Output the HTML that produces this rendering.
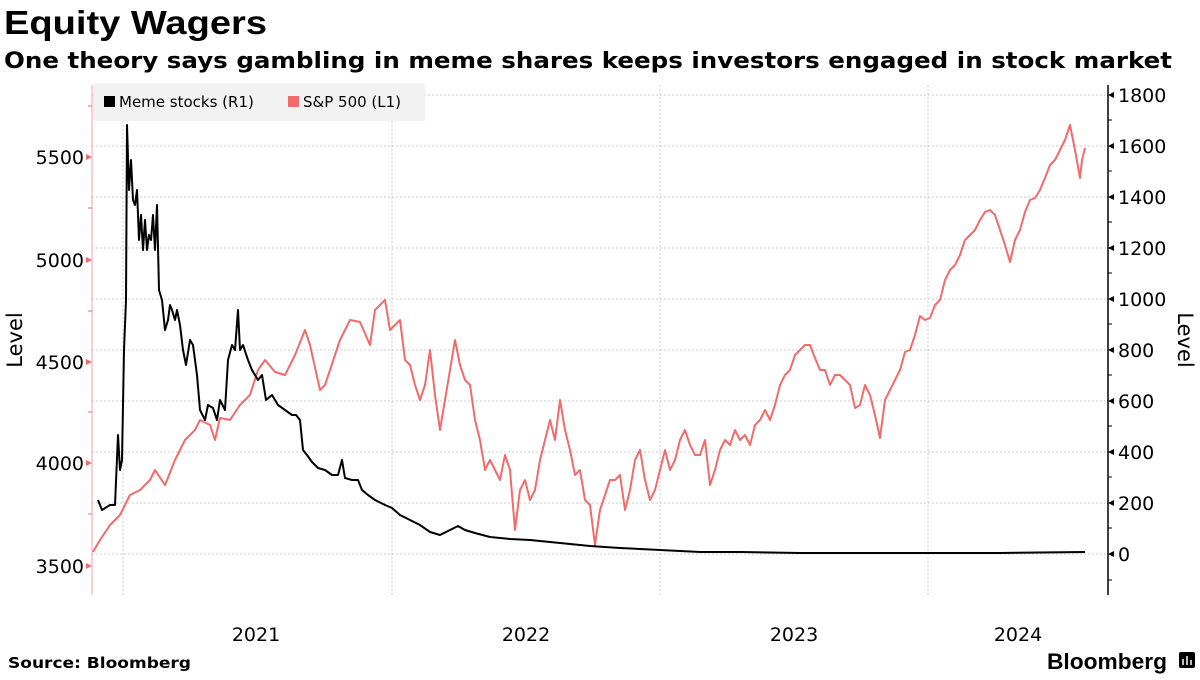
<!DOCTYPE html><html><head><meta charset="utf-8"><style>
body{margin:0;width:1200px;height:675px;background:#fff;font-family:"Liberation Sans","DejaVu Sans",sans-serif;overflow:hidden}
</style></head><body>
<svg width="1200" height="675" xmlns="http://www.w3.org/2000/svg" font-family="'DejaVu Sans','Liberation Sans',sans-serif">
<text x="4" y="34" font-size="33" font-weight="bold" font-family="'Liberation Sans',sans-serif" textLength="263" lengthAdjust="spacingAndGlyphs">Equity Wagers</text>
<text x="4" y="68" font-size="22.5" font-weight="bold" font-family="'DejaVu Sans',sans-serif" textLength="1168" lengthAdjust="spacingAndGlyphs">One theory says gambling in meme shares keeps investors engaged in stock market</text>
<g stroke="#ccc" stroke-dasharray="2,2" stroke-width="1">
<line x1="92" x2="1108" y1="95" y2="95"/><line x1="92" x2="1108" y1="146" y2="146"/><line x1="92" x2="1108" y1="197" y2="197"/><line x1="92" x2="1108" y1="248" y2="248"/><line x1="92" x2="1108" y1="299" y2="299"/><line x1="92" x2="1108" y1="350" y2="350"/><line x1="92" x2="1108" y1="401" y2="401"/><line x1="92" x2="1108" y1="452" y2="452"/><line x1="92" x2="1108" y1="503" y2="503"/><line x1="92" x2="1108" y1="554" y2="554"/>
<line x1="123" x2="123" y1="85" y2="595"/><line x1="392" x2="392" y1="85" y2="595"/><line x1="660" x2="660" y1="85" y2="595"/><line x1="928" x2="928" y1="85" y2="595"/>
</g>
<rect x="93" y="83" width="332" height="38" fill="#f2f2f2"/>
<rect x="104" y="96" width="11" height="11" fill="#000"/>
<text x="119" y="107" font-size="15">Meme stocks (R1)</text>
<rect x="288" y="96" width="11" height="11" fill="#f26b6b"/>
<text x="303" y="107" font-size="15">S&amp;P 500 (L1)</text>
<line x1="92" x2="92" y1="85" y2="595" stroke="#f4a0a0"/>
<g fill="#f26b6b"><path d="M86,154 l6,3 l-6,3z"/><path d="M86,257 l6,3 l-6,3z"/><path d="M86,359 l6,3 l-6,3z"/><path d="M86,460 l6,3 l-6,3z"/><path d="M86,563 l6,3 l-6,3z"/></g>
<g stroke="#f26b6b"><line x1="88" x2="92" y1="106" y2="106"/><line x1="88" x2="92" y1="208" y2="208"/><line x1="88" x2="92" y1="311" y2="311"/><line x1="88" x2="92" y1="412" y2="412"/><line x1="88" x2="92" y1="514" y2="514"/></g>
<g font-size="19" text-anchor="end"><text x="84" y="164">5500</text><text x="84" y="267">5000</text><text x="84" y="369">4500</text><text x="84" y="470">4000</text><text x="84" y="573">3500</text></g>
<text transform="translate(22,340) rotate(-90)" font-size="21" text-anchor="middle">Level</text>
<line x1="1108" x2="1108" y1="85" y2="595" stroke="#000" stroke-width="1.5"/>
<g fill="#000"><path d="M1114,92 l-6,3 l6,3z"/><path d="M1114,143 l-6,3 l6,3z"/><path d="M1114,194 l-6,3 l6,3z"/><path d="M1114,245 l-6,3 l6,3z"/><path d="M1114,296 l-6,3 l6,3z"/><path d="M1114,347 l-6,3 l6,3z"/><path d="M1114,398 l-6,3 l6,3z"/><path d="M1114,449 l-6,3 l6,3z"/><path d="M1114,500 l-6,3 l6,3z"/><path d="M1114,551 l-6,3 l6,3z"/></g>
<g stroke="#000"><line x1="1108" x2="1112" y1="120" y2="120"/><line x1="1108" x2="1112" y1="171" y2="171"/><line x1="1108" x2="1112" y1="222" y2="222"/><line x1="1108" x2="1112" y1="273" y2="273"/><line x1="1108" x2="1112" y1="324" y2="324"/><line x1="1108" x2="1112" y1="375" y2="375"/><line x1="1108" x2="1112" y1="426" y2="426"/><line x1="1108" x2="1112" y1="477" y2="477"/><line x1="1108" x2="1112" y1="528" y2="528"/><line x1="1108" x2="1112" y1="580" y2="580"/></g>
<g font-size="19"><text x="1118" y="102">1800</text><text x="1118" y="153">1600</text><text x="1118" y="204">1400</text><text x="1118" y="255">1200</text><text x="1118" y="306">1000</text><text x="1118" y="357">800</text><text x="1118" y="408">600</text><text x="1118" y="459">400</text><text x="1118" y="510">200</text><text x="1118" y="561">0</text></g>
<text transform="translate(1178,340) rotate(90)" font-size="21" text-anchor="middle">Level</text>
<g font-size="19" text-anchor="middle"><text x="256" y="641">2021</text><text x="526" y="641">2022</text><text x="794" y="641">2023</text><text x="1018" y="641">2024</text></g>
<polyline fill="none" stroke="#f26b6b" stroke-width="2" stroke-linejoin="round" points="93,552 100,540 110,525 120,515 130,495 140,490 150,480 155,470 165,485 175,460 185,440 195,430 200,420 210,425 215,440 220,418 230,420 240,405 250,395 258,370 265,360 275,372 285,375 295,355 305,330 310,345 320,390 325,385 330,370 340,340 350,320 360,322 370,345 375,310 385,300 390,330 400,320 405,360 410,365 415,385 420,400 425,385 430,350 435,395 440,430 445,400 450,370 455,340 460,365 465,380 470,385 475,420 480,440 485,470 490,460 495,470 500,480 505,455 510,470 515,530 520,490 525,480 530,500 535,490 540,460 545,440 550,420 555,440 560,400 565,430 570,450 575,475 580,470 585,500 590,505 595,545 600,510 605,495 610,480 615,480 620,475 625,510 630,490 635,460 640,450 645,480 650,500 655,490 660,470 665,450 670,470 675,460 680,440 685,430 690,445 695,455 700,455 705,440 710,485 715,470 720,450 725,440 730,445 735,430 740,440 745,435 750,445 755,425 760,420 765,410 770,420 775,405 780,385 785,375 790,370 795,355 800,350 805,345 810,345 815,358 820,370 825,370 830,385 835,375 840,375 845,380 850,385 855,408 860,405 865,385 870,395 875,415 880,438 885,400 890,390 895,380 900,370 905,352 910,350 915,335 920,316 925,320 930,318 935,305 940,300 945,280 950,270 955,265 960,255 965,240 970,235 975,230 980,220 985,212 990,210 995,215 1000,230 1005,245 1010,262 1015,240 1020,230 1025,212 1030,200 1035,198 1040,190 1045,178 1050,165 1055,160 1060,150 1065,140 1070,125 1075,150 1080,178 1082,160 1085,148"/>
<polyline fill="none" stroke="#000" stroke-width="2" stroke-linejoin="round" points="98,500 102,510 110,505 115,505 118,435 120,470 122,460 124,350 126,300 127,125 129,190 131,160 133,200 135,205 137,190 139,240 141,215 143,250 145,220 147,250 149,235 151,240 153,215 155,250 157,205 159,290 162,300 165,330 168,320 170,305 172,310 175,320 177,310 180,325 183,350 186,365 190,340 193,345 197,375 200,410 205,420 208,405 213,408 217,420 220,400 225,410 228,360 232,345 235,350 238,310 240,350 243,345 248,360 252,370 258,380 262,375 266,400 272,395 278,405 285,410 292,415 296,415 300,420 303,450 307,455 312,462 318,468 325,470 332,475 338,475 342,460 345,478 352,480 358,480 362,490 368,495 375,500 385,505 392,508 400,515 410,520 420,525 430,532 440,535 450,530 458,526 465,530 475,533 490,537 510,539 530,540 550,542 570,544 590,546 620,548 660,550 700,552 740,552 800,553 900,553 1000,553 1085,552"/>
<text x="8" y="668" font-size="15" font-weight="bold" font-family="'DejaVu Sans',sans-serif" textLength="183" lengthAdjust="spacingAndGlyphs">Source: Bloomberg</text>
<text x="1047" y="669" font-size="22" font-weight="bold" font-family="'Liberation Sans',sans-serif" textLength="120" lengthAdjust="spacingAndGlyphs">Bloomberg</text>
<rect x="1179" y="652" width="16" height="16" rx="2" fill="#000"/>
<g stroke="#fff" stroke-width="1.5"><line x1="1183" x2="1183" y1="659" y2="665"/><line x1="1187" x2="1187" y1="656" y2="665"/><line x1="1191" x2="1191" y1="660" y2="665"/></g>
</svg>
</body></html>
